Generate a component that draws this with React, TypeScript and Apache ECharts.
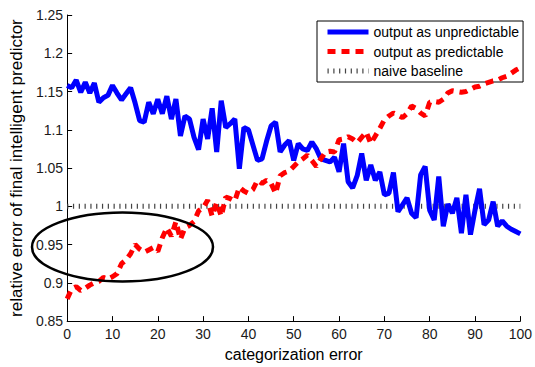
import React, { useEffect, useRef } from "react";
import * as echarts from "echarts";

const xValues: number[] = Array.from({ length: 101 }, (_, i) => i);

const unpredictable: number[] = [
  1.158, 1.155, 1.165, 1.149, 1.162, 1.148, 1.161, 1.136, 1.142, 1.145,
  1.158, 1.148, 1.139, 1.147, 1.155, 1.135, 1.112, 1.110, 1.136, 1.121,
  1.140, 1.121, 1.144, 1.114, 1.140, 1.092, 1.118, 1.114, 1.090, 1.074,
  1.114, 1.088, 1.128, 1.071, 1.138, 1.103, 1.108, 1.114, 1.049, 1.103,
  1.100, 1.080, 1.060, 1.062, 1.085, 1.105, 1.110, 1.071, 1.080, 1.086,
  1.060, 1.082, 1.075, 1.073, 1.084, 1.075, 1.062, 1.060, 1.058, 1.064,
  1.045, 1.082, 1.032, 1.024, 1.040, 1.069, 1.034, 1.054, 1.034, 1.045,
  1.015, 1.017, 1.044, 0.993, 1.002, 1.011, 0.991, 0.985, 1.041, 1.052,
  0.995, 0.982, 1.039, 0.974, 1.003, 0.991, 1.011, 0.965, 1.015, 0.963,
  0.995, 1.023, 0.976, 0.982, 1.006, 0.974, 0.981, 0.974, 0.970, 0.967,
  0.964,
];

const predictable: number[] = [
  0.879, 0.892, 0.895, 0.890, 0.893, 0.897, 0.900, 0.902, 0.907, 0.905,
  0.908, 0.912, 0.925, 0.930, 0.938, 0.950, 0.944, 0.940, 0.943, 0.946,
  0.941, 0.959, 0.972, 0.961, 0.980, 0.957, 0.972, 0.975, 0.980, 0.994,
  0.998, 1.008, 0.987, 1.005, 0.987, 1.012, 1.010, 1.007, 1.025, 1.020,
  1.017, 1.022, 1.034, 1.030, 1.034, 1.030, 1.017, 1.040, 1.044, 1.046,
  1.052, 1.058, 1.062, 1.067, 1.060, 1.052, 1.062, 1.071, 1.072, 1.071,
  1.087, 1.088, 1.091, 1.088, 1.083, 1.090, 1.097, 1.082, 1.092, 1.102,
  1.113, 1.118, 1.122, 1.119, 1.116, 1.121, 1.131, 1.128, 1.122, 1.118,
  1.136, 1.137, 1.136, 1.140, 1.148, 1.151, 1.150, 1.149, 1.150, 1.153,
  1.156, 1.157, 1.160, 1.162, 1.164, 1.165, 1.168, 1.170, 1.174, 1.178,
  1.181,
];

const baselineX: number[] = [0, 100];
const baselineY: number[] = [1, 1];

const seriesNames: string[] = [
  "output as unpredictable",
  "output as predictable",
  "naive baseline",
];

const FONT = "'Liberation Sans', Arial, Helvetica, sans-serif";

export default function App() {
  const ref = useRef<HTMLDivElement>(null);

  useEffect(() => {
    if (!ref.current) return;
    const chart = echarts.init(ref.current, undefined, { renderer: "svg" });
    const option: any = {
      animation: false,
      backgroundColor: "#fff",
      textStyle: { fontFamily: FONT },
      grid: { left: 64, right: 12, top: 15, bottom: 43 },
      legend: {
        orient: "vertical",
        left: 317,
        top: 21,
        padding: [4, 4, 4, 8],
        itemGap: 5.5,
        itemWidth: 41,
        itemHeight: 14,
        borderColor: "#000",
        borderWidth: 1,
        backgroundColor: "#fff",
        borderRadius: 0,
        itemStyle: {
          color: "rgba(0,0,0,0)",
          borderColor: "rgba(0,0,0,0)",
          borderWidth: 0,
        },
        lineStyle: { width: 5 },
        textStyle: { fontSize: 14, color: "#000", fontFamily: FONT, padding: [0, 0, 0, 0] },
        data: seriesNames,
        selectedMode: false,
      },
      xAxis: {
        type: "value",
        min: 0,
        max: 100,
        interval: 10,
        name: "categorization error",
        nameLocation: "middle",
        nameGap: 23,
        nameTextStyle: { fontSize: 16, color: "#000", fontFamily: FONT },
        axisLine: { show: true, lineStyle: { color: "#000", width: 1 } },
        axisTick: { show: true, inside: true, length: 5, lineStyle: { color: "#000" } },
        axisLabel: { fontSize: 14, color: "#1a1a1a", margin: 6, fontFamily: FONT },
        splitLine: { show: false },
      },
      yAxis: {
        type: "value",
        min: 0.85,
        max: 1.25,
        interval: 0.05,
        name: "relative error of final intelligent predictor",
        nameLocation: "middle",
        nameGap: 37,
        nameTextStyle: { fontSize: 17, color: "#000", fontFamily: FONT },
        axisLine: { show: true, lineStyle: { color: "#000", width: 1 } },
        axisTick: { show: true, inside: true, length: 5, lineStyle: { color: "#000" } },
        axisLabel: { fontSize: 14, color: "#1a1a1a", margin: 4, fontFamily: FONT },
        splitLine: { show: false },
      },
      series: [
        {
          name: seriesNames[0],
          type: "line",
          symbol: "none",
          data: xValues.map((x, i) => [x, unpredictable[i]]),
          lineStyle: { color: "#0000ff", width: 5 },
          itemStyle: { color: "#0000ff" },
          z: 3,
        },
        {
          name: seriesNames[1],
          type: "line",
          symbol: "none",
          data: xValues.map((x, i) => [x, predictable[i]]),
          lineStyle: { color: "#ff0000", width: 5, type: [8, 6] },
          itemStyle: { color: "#ff0000" },
          z: 4,
        },
        {
          name: seriesNames[2],
          type: "line",
          symbol: "none",
          data: baselineX.map((x, i) => [x, baselineY[i]]),
          lineStyle: { color: "#444", width: 5, type: [1.2, 4.6] },
          itemStyle: { color: "#444" },
          z: 2,
        },
      ],
      graphic: [
        {
          type: "ellipse",
          shape: { cx: 122.5, cy: 247, rx: 90.5, ry: 34.5 },
          style: { fill: "none", stroke: "#000", lineWidth: 2.5 },
          z: 100,
        },
      ],
    };
    chart.setOption(option);
    return () => chart.dispose();
  }, []);

  return (
    <div
      ref={ref}
      style={{ position: "fixed", left: 0, top: 0, width: 535, height: 367 }}
    />
  );
}
